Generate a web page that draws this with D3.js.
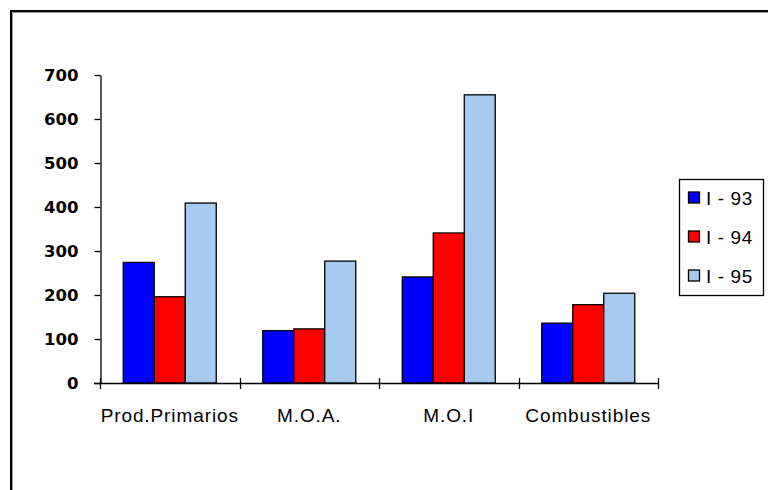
<!DOCTYPE html>
<html>
<head>
<meta charset="utf-8">
<script src="https://cdn.jsdelivr.net/npm/d3@7"></script>
<style>
  html, body { margin: 0; padding: 0; background: #fff; }
  svg { display: block; }
</style>
</head>
<body>
<svg id="chart" width="768" height="490"></svg>
<script>
// Exports by category, first quarter of each year
const categories = ["Prod.Primarios", "M.O.A.", "M.O.I", "Combustibles"];
const seriesNames = ["I - 93", "I - 94", "I - 95"];
const values93 = [274, 119, 241, 136];
const values94 = [196, 123, 341, 178];
const values95 = [409, 277, 655, 204];
const yTicks = [0, 100, 200, 300, 400, 500, 600, 700];
const seriesColors = ["#0000FF", "#FF0000", "#A6CAF0"];

const seriesValues = [values93, values94, values95];

const svg = d3.select("#chart");

// outer frame (open to the right and bottom)
svg.append("path")
  .attr("d", "M11,490 V11 H768")
  .attr("fill", "none").attr("stroke", "#000").attr("stroke-width", 2);
svg.append("path")
  .attr("d", "M12.5,490 V12.5 H768")
  .attr("fill", "none").attr("stroke", "#999").attr("stroke-width", 1);

const x0 = d3.scaleBand().domain(categories).range([100, 658]).paddingInner(0).paddingOuter(0);
const x1 = d3.scaleBand().domain(seriesNames).range([0, x0.bandwidth()]).paddingInner(0).paddingOuter(0.75);
const y = d3.scaleLinear().domain([0, 700]).range([383, 75]);

// bars
const groups = svg.append("g").selectAll("g")
  .data(categories)
  .join("g")
  .attr("transform", d => `translate(${x0(d)},0)`);

groups.selectAll("rect")
  .data((c, i) => seriesNames.map((s, k) => ({ s, v: seriesValues[k][i], k })))
  .join("rect")
  .attr("x", d => x1(d.s))
  .attr("y", d => y(d.v))
  .attr("width", x1.bandwidth())
  .attr("height", d => y(0) - y(d.v))
  .attr("fill", d => seriesColors[d.k])
  .attr("stroke", "#000")
  .attr("stroke-width", 1.3);

// y axis
const yAxis = d3.axisLeft(y).tickValues(yTicks).tickSize(6).tickSizeOuter(0).tickPadding(16);
const gy = svg.append("g").attr("transform", "translate(100.5,0)").call(yAxis);
gy.select(".domain").attr("stroke", "#000").attr("stroke-width", 1.3);
gy.selectAll(".tick line").attr("stroke", "#000").attr("stroke-width", 1.3);
gy.selectAll(".tick text")
  .attr("font-family", "'DejaVu Sans', sans-serif")
  .attr("font-weight", "bold")
  .attr("font-size", 16.5)
  .attr("fill", "#000");

// x axis: crossing tick marks at the category boundaries
const xLine = svg.append("g");
xLine.append("line")
  .attr("x1", 94).attr("x2", x0.range()[1])
  .attr("y1", y(0) + 0.5).attr("y2", y(0) + 0.5)
  .attr("stroke", "#000").attr("stroke-width", 1.3);
const bounds = categories.map(c => x0(c)).concat([x0.range()[1]]);
xLine.selectAll("line.tk")
  .data(bounds)
  .join("line")
  .attr("class", "tk")
  .attr("x1", d => Math.round(d) + 0.5).attr("x2", d => Math.round(d) + 0.5)
  .attr("y1", y(0) - 5).attr("y2", y(0) + 6)
  .attr("stroke", "#000").attr("stroke-width", 1.3);

svg.append("g").selectAll("text")
  .data(categories)
  .join("text")
  .attr("x", d => x0(d) + x0.bandwidth() / 2)
  .attr("y", 422)
  .attr("text-anchor", "middle")
  .attr("font-family", "'Liberation Sans', Arial, sans-serif")
  .attr("font-size", 19)
  .attr("letter-spacing", 0.9)
  .attr("fill", "#000")
  .text(d => d);

// legend
const legend = svg.append("g");
legend.append("rect")
  .attr("x", 679.5).attr("y", 179.5).attr("width", 84).attr("height", 116)
  .attr("fill", "#fff").attr("stroke", "#000").attr("stroke-width", 1.3);
const legendY = d3.scalePoint().domain(seriesNames).range([198, 276]);
const items = legend.selectAll("g.item")
  .data(seriesNames)
  .join("g")
  .attr("class", "item")
  .attr("transform", d => `translate(0,${legendY(d)})`);
items.append("rect")
  .attr("x", 688.5).attr("y", -6).attr("width", 11).attr("height", 11)
  .attr("fill", (d, i) => seriesColors[i])
  .attr("stroke", "#000").attr("stroke-width", 1.3);
items.append("text")
  .attr("x", 706).attr("y", 7)
  .attr("font-family", "'Liberation Sans', Arial, sans-serif")
  .attr("font-size", 19)
  .attr("letter-spacing", 0.6)
  .attr("fill", "#000")
  .text(d => d);
</script>
</body>
</html>
